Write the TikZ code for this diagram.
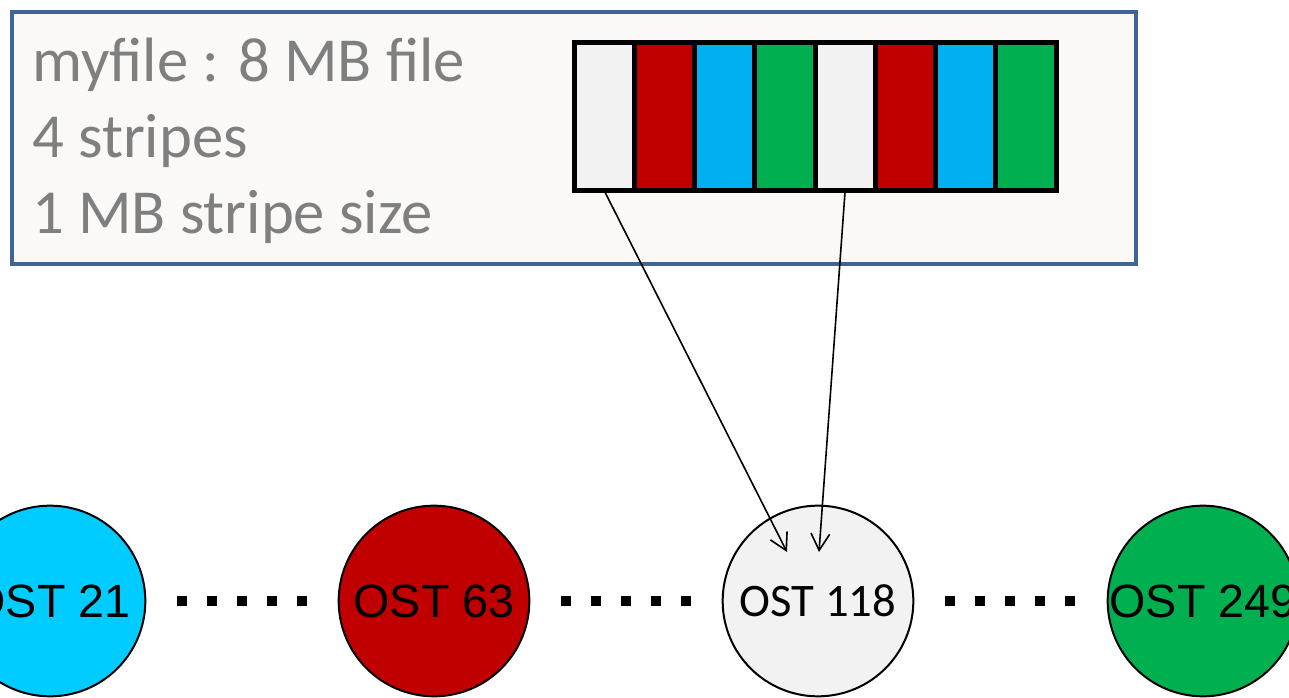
\documentclass[tikz,border=0pt]{standalone}
\usepackage{fontspec}
\setmainfont{Carlito}
\newfontfamily\arialfont{Liberation Sans}
\usetikzlibrary{arrows.meta}

\definecolor{panelblue}{RGB}{65,100,150}
\definecolor{panelfill}{RGB}{250,249,247}
\definecolor{captiongray}{RGB}{127,127,127}
\definecolor{stripegray}{RGB}{242,242,242}
\definecolor{stripered}{RGB}{192,0,0}
\definecolor{stripeblue}{RGB}{0,176,240}
\definecolor{stripegreen}{RGB}{0,176,80}
\definecolor{ostcyan}{RGB}{0,204,255}

\begin{document}
\begin{tikzpicture}[x=0.75pt,y=-0.75pt,
  panel/.style={draw=panelblue, line width=3pt, fill=panelfill,
    minimum width=843pt, minimum height=189pt, inner sep=0pt, outer sep=0pt},
  caption/.style={anchor=base west, text=captiongray,
    font=\fontsize{47}{56}\selectfont, inner sep=0pt},
  stripe/.style={draw=black, line width=3.75pt, minimum width=45.19pt,
    minimum height=111pt, inner sep=0pt, outer sep=0pt},
  ost/.style={circle, draw=black, line width=1.5pt, minimum size=143pt,
    inner sep=0pt, outer sep=0pt, font=\fontsize{35}{42}\selectfont},
  ostsans/.style={ost, font=\arialfont\fontsize{35}{42}\selectfont},
  gap/.style={line width=7.5pt, dash pattern=on 7.5pt off 15pt,
    shorten <=24pt, shorten >=24pt},
  feed/.style={line width=1.2pt, -{Straight Barb[length=12.5pt,width=14pt]}},
]
\useasboundingbox (0,0) rectangle (1289,698);

% file description panel
\node[panel] (filebox) at (574,138) {};
\node[caption] (name)   at (32,82)  {myfile : 8 MB file};
\node[caption] (count)  at (32,158) {4 stripes};
\node[caption] (size)   at (32,234) {1 MB stripe size};

% the eight 1 MB stripes of the file
\foreach \i/\c in {1/stripegray,2/stripered,3/stripeblue,4/stripegreen,
                   5/stripegray,6/stripered,7/stripeblue,8/stripegreen}
  \node[stripe, fill=\c] (s\i) at ({574+60.25*(\i-0.5)},116.5) {};

% object storage targets
\node[ostsans, fill=ostcyan]     (ost21)  at (50,601)   {OST 21};
\node[ostsans, fill=stripered]   (ost63)  at (434,601)  {OST 63};
\node[ost,     fill=stripegray]  (ost118) at (818,601)  {OST 118};
\node[ostsans, fill=stripegreen] (ost249) at (1203,601) {OST 249};

\draw[gap] (ost21)  -- (ost63);
\draw[gap] (ost63)  -- (ost118);
\draw[gap] (ost118) -- (ost249);

% stripes written to OST 118
\coordinate (t1) at (787,552);
\coordinate (t2) at (819,552);
\draw[feed] (s1.south) -- (t1);
\draw[feed] (s5.south) -- (t2);
\end{tikzpicture}
\end{document}
